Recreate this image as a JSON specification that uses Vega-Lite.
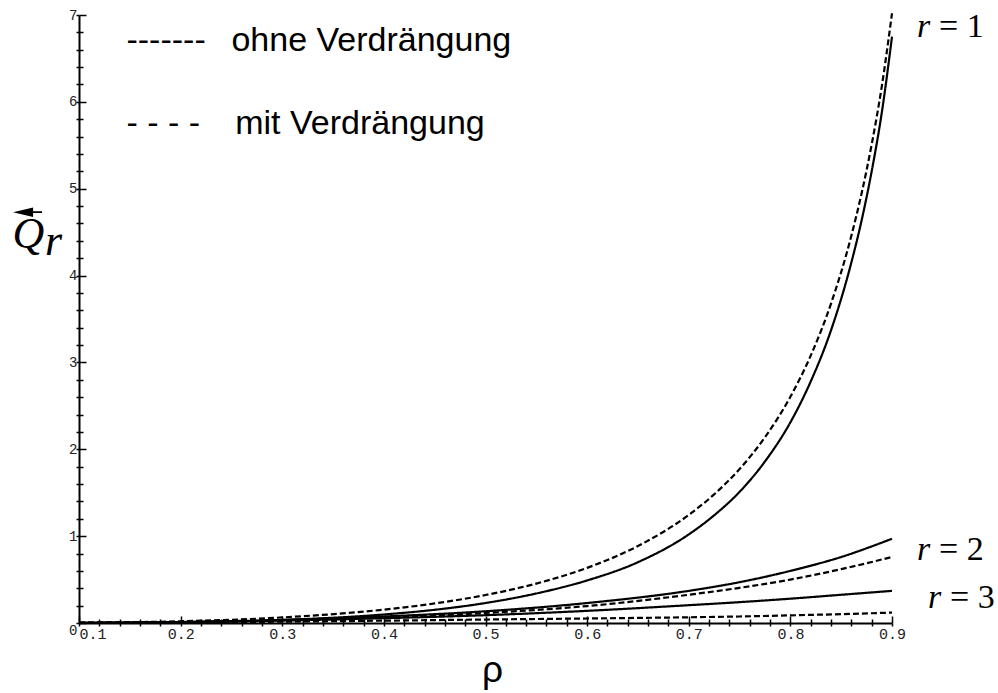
{
  "$schema": "https://vega.github.io/schema/vega-lite/v6.json",
  "width": 813,
  "height": 608,
  "autosize": "none",
  "padding": {"left": 79, "top": 15, "right": 106, "bottom": 70},
  "background": "white",
  "config": {"view": {"stroke": null}},
  "datasets": {
    "curves": [
      {"rho":0.1,"Q":0.001,"r":1,"Typ":"ohne"},{"rho":0.2,"Q":0.009,"r":1,"Typ":"ohne"},{"rho":0.3,"Q":0.035,"r":1,"Typ":"ohne"},{"rho":0.4,"Q":0.098,"r":1,"Typ":"ohne"},{"rho":0.45,"Q":0.152,"r":1,"Typ":"ohne"},{"rho":0.5,"Q":0.23,"r":1,"Typ":"ohne"},{"rho":0.55,"Q":0.34,"r":1,"Typ":"ohne"},{"rho":0.6,"Q":0.49,"r":1,"Typ":"ohne"},{"rho":0.65,"Q":0.70,"r":1,"Typ":"ohne"},{"rho":0.7,"Q":1.02,"r":1,"Typ":"ohne"},{"rho":0.725,"Q":1.24,"r":1,"Typ":"ohne"},{"rho":0.75,"Q":1.51,"r":1,"Typ":"ohne"},{"rho":0.775,"Q":1.86,"r":1,"Typ":"ohne"},{"rho":0.8,"Q":2.31,"r":1,"Typ":"ohne"},{"rho":0.82,"Q":2.78,"r":1,"Typ":"ohne"},{"rho":0.84,"Q":3.37,"r":1,"Typ":"ohne"},{"rho":0.86,"Q":4.15,"r":1,"Typ":"ohne"},{"rho":0.87,"Q":4.63,"r":1,"Typ":"ohne"},{"rho":0.88,"Q":5.2,"r":1,"Typ":"ohne"},{"rho":0.89,"Q":5.88,"r":1,"Typ":"ohne"},{"rho":0.9,"Q":6.75,"r":1,"Typ":"ohne"},
      {"rho":0.1,"Q":0.003,"r":1,"Typ":"mit"},{"rho":0.2,"Q":0.02,"r":1,"Typ":"mit"},{"rho":0.3,"Q":0.064,"r":1,"Typ":"mit"},{"rho":0.4,"Q":0.154,"r":1,"Typ":"mit"},{"rho":0.45,"Q":0.225,"r":1,"Typ":"mit"},{"rho":0.5,"Q":0.322,"r":1,"Typ":"mit"},{"rho":0.55,"Q":0.454,"r":1,"Typ":"mit"},{"rho":0.6,"Q":0.635,"r":1,"Typ":"mit"},{"rho":0.65,"Q":0.886,"r":1,"Typ":"mit"},{"rho":0.7,"Q":1.244,"r":1,"Typ":"mit"},{"rho":0.725,"Q":1.481,"r":1,"Typ":"mit"},{"rho":0.75,"Q":1.773,"r":1,"Typ":"mit"},{"rho":0.775,"Q":2.139,"r":1,"Typ":"mit"},{"rho":0.8,"Q":2.604,"r":1,"Typ":"mit"},{"rho":0.82,"Q":3.078,"r":1,"Typ":"mit"},{"rho":0.84,"Q":3.678,"r":1,"Typ":"mit"},{"rho":0.86,"Q":4.458,"r":1,"Typ":"mit"},{"rho":0.87,"Q":4.942,"r":1,"Typ":"mit"},{"rho":0.88,"Q":5.509,"r":1,"Typ":"mit"},{"rho":0.89,"Q":6.182,"r":1,"Typ":"mit"},{"rho":0.9,"Q":7.02,"r":1,"Typ":"mit"},
      {"rho":0.1,"Q":0.002,"r":2,"Typ":"ohne"},{"rho":0.2,"Q":0.012,"r":2,"Typ":"ohne"},{"rho":0.3,"Q":0.035,"r":2,"Typ":"ohne"},{"rho":0.4,"Q":0.075,"r":2,"Typ":"ohne"},{"rho":0.5,"Q":0.135,"r":2,"Typ":"ohne"},{"rho":0.6,"Q":0.23,"r":2,"Typ":"ohne"},{"rho":0.7,"Q":0.37,"r":2,"Typ":"ohne"},{"rho":0.75,"Q":0.47,"r":2,"Typ":"ohne"},{"rho":0.8,"Q":0.6,"r":2,"Typ":"ohne"},{"rho":0.85,"Q":0.76,"r":2,"Typ":"ohne"},{"rho":0.9,"Q":0.97,"r":2,"Typ":"ohne"},
      {"rho":0.1,"Q":0.002,"r":2,"Typ":"mit"},{"rho":0.2,"Q":0.011,"r":2,"Typ":"mit"},{"rho":0.3,"Q":0.03,"r":2,"Typ":"mit"},{"rho":0.4,"Q":0.065,"r":2,"Typ":"mit"},{"rho":0.5,"Q":0.115,"r":2,"Typ":"mit"},{"rho":0.6,"Q":0.195,"r":2,"Typ":"mit"},{"rho":0.7,"Q":0.325,"r":2,"Typ":"mit"},{"rho":0.75,"Q":0.405,"r":2,"Typ":"mit"},{"rho":0.8,"Q":0.5,"r":2,"Typ":"mit"},{"rho":0.85,"Q":0.62,"r":2,"Typ":"mit"},{"rho":0.9,"Q":0.76,"r":2,"Typ":"mit"},
      {"rho":0.1,"Q":0.002,"r":3,"Typ":"ohne"},{"rho":0.2,"Q":0.01,"r":3,"Typ":"ohne"},{"rho":0.3,"Q":0.028,"r":3,"Typ":"ohne"},{"rho":0.4,"Q":0.055,"r":3,"Typ":"ohne"},{"rho":0.5,"Q":0.09,"r":3,"Typ":"ohne"},{"rho":0.6,"Q":0.14,"r":3,"Typ":"ohne"},{"rho":0.7,"Q":0.205,"r":3,"Typ":"ohne"},{"rho":0.75,"Q":0.24,"r":3,"Typ":"ohne"},{"rho":0.8,"Q":0.28,"r":3,"Typ":"ohne"},{"rho":0.85,"Q":0.325,"r":3,"Typ":"ohne"},{"rho":0.9,"Q":0.37,"r":3,"Typ":"ohne"},
      {"rho":0.1,"Q":0.001,"r":3,"Typ":"mit"},{"rho":0.2,"Q":0.006,"r":3,"Typ":"mit"},{"rho":0.3,"Q":0.015,"r":3,"Typ":"mit"},{"rho":0.4,"Q":0.027,"r":3,"Typ":"mit"},{"rho":0.5,"Q":0.04,"r":3,"Typ":"mit"},{"rho":0.6,"Q":0.052,"r":3,"Typ":"mit"},{"rho":0.7,"Q":0.066,"r":3,"Typ":"mit"},{"rho":0.75,"Q":0.075,"r":3,"Typ":"mit"},{"rho":0.8,"Q":0.088,"r":3,"Typ":"mit"},{"rho":0.85,"Q":0.102,"r":3,"Typ":"mit"},{"rho":0.9,"Q":0.12,"r":3,"Typ":"mit"}
    ]
  },
  "resolve": {"axis": {"x": "independent", "y": "independent"}},
  "layer": [
    {
      "data": {"name": "curves"},
      "mark": {"type": "line", "color": "black", "strokeWidth": 2.2, "interpolate": "monotone"},
      "encoding": {
        "x": {"field": "rho", "type": "quantitative", "scale": {"domain": [0.1, 0.9], "nice": false, "zero": false},
          "axis": {
            "orient": "bottom",
            "values": [0.1,0.12,0.14,0.16,0.18,0.2,0.22,0.24,0.26,0.28,0.3,0.32,0.34,0.36,0.38,0.4,0.42,0.44,0.46,0.48,0.5,0.52,0.54,0.56,0.58,0.6,0.62,0.64,0.66,0.68,0.7,0.72,0.74,0.76,0.78,0.8,0.82,0.84,0.86,0.88,0.9],
            "domainColor": "black", "domainWidth": 2,
            "tickColor": "black", "tickWidth": 1.5,
            "tickSize": {"condition": {"test": "abs(datum.value*10-round(datum.value*10))<0.001", "value": -7}, "value": -4},
            "labelExpr": "abs(datum.value*10-round(datum.value*10))<0.001 ? format(datum.value,'.1f') : ''",
            "labelFont": "Liberation Mono", "labelFontSize": 15, "labelColor": "#222",
            "labelPadding": 10, "labelFlush": false, "labelOverlap": false,
            "labelAlign": {"condition": {"test": "datum.value<0.105", "value": "left"}, "value": "center"},
            "grid": false,
            "title": "ρ", "titleFont": "Liberation Sans", "titleFontSize": 37, "titleFontWeight": "normal", "titleColor": "black",
            "titleX": 413, "titleY": 58, "titleBaseline": "alphabetic"
          }
        },
        "y": {"field": "Q", "type": "quantitative", "scale": {"domain": [0, 7], "nice": false, "zero": false},
          "axis": {
            "orient": "left",
            "values": [0,0.2,0.4,0.6,0.8,1,1.2,1.4,1.6,1.8,2,2.2,2.4,2.6,2.8,3,3.2,3.4,3.6,3.8,4,4.2,4.4,4.6,4.8,5,5.2,5.4,5.6,5.8,6,6.2,6.4,6.6,6.8,7],
            "domainColor": "black", "domainWidth": 2,
            "tickColor": "black", "tickWidth": 1.5,
            "tickSize": {"condition": {"test": "abs(datum.value-round(datum.value))<0.001", "value": -7}, "value": -4},
            "labelExpr": "abs(datum.value-round(datum.value))<0.001 ? format(datum.value,'d') : ''",
            "labelFont": "Liberation Mono", "labelFontSize": 14, "labelColor": "#222",
            "labelPadding": 9, "labelFlush": false, "labelOverlap": false,
            "labelBaseline": {"condition": {"test": "datum.value<0.01", "value": "top"}, "value": "middle"},
            "grid": false,
            "title": "Q", "titleAngle": 0, "titleFont": "Liberation Serif", "titleFontStyle": "italic", "titleFontSize": 44,
            "titleFontWeight": "normal", "titleColor": "black", "titleX": -67, "titleY": 232, "titleAlign": "left", "titleBaseline": "alphabetic"
          }
        },
        "detail": {"field": "r", "type": "nominal"},
        "strokeDash": {"field": "Typ", "type": "nominal", "scale": {"domain": ["ohne", "mit"], "range": [[1, 0], [6, 3]]}, "legend": null}
      }
    },
    {
      "data": {"name": "curves"},
      "mark": {"type": "line", "opacity": 0},
      "encoding": {
        "x": {"field": "rho", "type": "quantitative", "scale": {"domain": [0.1, 0.9], "nice": false, "zero": false},
          "axis": {
            "orient": "bottom",
            "values": [0.1,0.12,0.14,0.16,0.18,0.2,0.22,0.24,0.26,0.28,0.3,0.32,0.34,0.36,0.38,0.4,0.42,0.44,0.46,0.48,0.5,0.52,0.54,0.56,0.58,0.6,0.62,0.64,0.66,0.68,0.7,0.72,0.74,0.76,0.78,0.8,0.82,0.84,0.86,0.88,0.9],
            "domain": false, "labels": false, "grid": false, "title": null,
            "tickColor": "black", "tickWidth": 1.5, "tickSize": 3
          }
        },
        "y": {"field": "Q", "type": "quantitative", "scale": {"domain": [0, 7], "nice": false, "zero": false},
          "axis": {
            "orient": "left",
            "values": [0,0.2,0.4,0.6,0.8,1,1.2,1.4,1.6,1.8,2,2.2,2.4,2.6,2.8,3,3.2,3.4,3.6,3.8,4,4.2,4.4,4.6,4.8,5,5.2,5.4,5.6,5.8,6,6.2,6.4,6.6,6.8,7],
            "domain": false, "labels": false, "grid": false, "title": null,
            "tickColor": "black", "tickWidth": 1.5, "tickSize": 3
          }
        },
        "detail": {"field": "r", "type": "nominal"}
      }
    },
    {
      "data": {"values": [{}]},
      "mark": {"type": "text", "text": "-------\u00a0\u00a0\u2009ohne Verdrängung", "font": "Liberation Sans", "fontSize": 34, "align": "left", "baseline": "alphabetic", "color": "black"},
      "encoding": {
        "x": {"datum": 0.1467, "type": "quantitative", "scale": {"domain": [0.1, 0.9], "nice": false, "zero": false}, "axis": null},
        "y": {"datum": 6.582, "type": "quantitative", "scale": {"domain": [0, 7], "nice": false, "zero": false}, "axis": null}
      }
    },
    {
      "data": {"values": [{}]},
      "mark": {"type": "text", "text": "-\u00a0-\u00a0-\u00a0-\u00a0\u00a0\u00a0\u2009mit Verdrängung", "font": "Liberation Sans", "fontSize": 34, "align": "left", "baseline": "alphabetic", "color": "black"},
      "encoding": {
        "x": {"datum": 0.1467, "type": "quantitative", "scale": {"domain": [0.1, 0.9], "nice": false, "zero": false}, "axis": null},
        "y": {"datum": 5.627, "type": "quantitative", "scale": {"domain": [0, 7], "nice": false, "zero": false}, "axis": null}
      }
    },
    {
      "data": {"values": [{}]},
      "mark": {"type": "text", "text": "r", "font": "Liberation Serif", "fontStyle": "italic", "fontSize": 44, "align": "left", "baseline": "alphabetic", "color": "black"},
      "encoding": {
        "x": {"datum": 0.0665, "type": "quantitative", "scale": {"domain": [0.1, 0.9], "nice": false, "zero": false}, "axis": null},
        "y": {"datum": 4.235, "type": "quantitative", "scale": {"domain": [0, 7], "nice": false, "zero": false}, "axis": null}
      }
    },
    {
      "data": {"values": [{}]},
      "mark": {"type": "point", "shape": "M-1,0L0.7,-0.4L0.7,-0.08L1.46,-0.08L1.46,0.08L0.7,0.08L0.7,0.4Z", "filled": true, "color": "black", "opacity": 1, "size": 557},
      "encoding": {
        "x": {"datum": 0.0467, "type": "quantitative", "scale": {"domain": [0.1, 0.9], "nice": false, "zero": false}, "axis": null},
        "y": {"datum": 4.73, "type": "quantitative", "scale": {"domain": [0, 7], "nice": false, "zero": false}, "axis": null}
      }
    },
    {
      "data": {"values": [{}]},
      "mark": {"type": "text", "text": "r", "font": "Liberation Serif", "fontStyle": "italic", "fontSize": 34, "align": "left", "baseline": "alphabetic", "color": "black"},
      "encoding": {
        "x": {"datum": 0.9246, "type": "quantitative", "scale": {"domain": [0.1, 0.9], "nice": false, "zero": false}, "axis": null},
        "y": {"datum": 6.743, "type": "quantitative", "scale": {"domain": [0, 7], "nice": false, "zero": false}, "axis": null}
      }
    },
    {
      "data": {"values": [{}]},
      "mark": {"type": "text", "text": "= 1", "font": "Liberation Serif", "fontSize": 34, "align": "left", "baseline": "alphabetic", "color": "black", "dx": 22},
      "encoding": {
        "x": {"datum": 0.9246, "type": "quantitative", "scale": {"domain": [0.1, 0.9], "nice": false, "zero": false}, "axis": null},
        "y": {"datum": 6.743, "type": "quantitative", "scale": {"domain": [0, 7], "nice": false, "zero": false}, "axis": null}
      }
    },
    {
      "data": {"values": [{}]},
      "mark": {"type": "text", "text": "r", "font": "Liberation Serif", "fontStyle": "italic", "fontSize": 34, "align": "left", "baseline": "alphabetic", "color": "black"},
      "encoding": {
        "x": {"datum": 0.9246, "type": "quantitative", "scale": {"domain": [0.1, 0.9], "nice": false, "zero": false}, "axis": null},
        "y": {"datum": 0.725, "type": "quantitative", "scale": {"domain": [0, 7], "nice": false, "zero": false}, "axis": null}
      }
    },
    {
      "data": {"values": [{}]},
      "mark": {"type": "text", "text": "= 2", "font": "Liberation Serif", "fontSize": 34, "align": "left", "baseline": "alphabetic", "color": "black", "dx": 22},
      "encoding": {
        "x": {"datum": 0.9246, "type": "quantitative", "scale": {"domain": [0.1, 0.9], "nice": false, "zero": false}, "axis": null},
        "y": {"datum": 0.725, "type": "quantitative", "scale": {"domain": [0, 7], "nice": false, "zero": false}, "axis": null}
      }
    },
    {
      "data": {"values": [{}]},
      "mark": {"type": "text", "text": "r", "font": "Liberation Serif", "fontStyle": "italic", "fontSize": 34, "align": "left", "baseline": "alphabetic", "color": "black"},
      "encoding": {
        "x": {"datum": 0.9354, "type": "quantitative", "scale": {"domain": [0.1, 0.9], "nice": false, "zero": false}, "axis": null},
        "y": {"datum": 0.167, "type": "quantitative", "scale": {"domain": [0, 7], "nice": false, "zero": false}, "axis": null}
      }
    },
    {
      "data": {"values": [{}]},
      "mark": {"type": "text", "text": "= 3", "font": "Liberation Serif", "fontSize": 34, "align": "left", "baseline": "alphabetic", "color": "black", "dx": 22},
      "encoding": {
        "x": {"datum": 0.9354, "type": "quantitative", "scale": {"domain": [0.1, 0.9], "nice": false, "zero": false}, "axis": null},
        "y": {"datum": 0.167, "type": "quantitative", "scale": {"domain": [0, 7], "nice": false, "zero": false}, "axis": null}
      }
    }
  ]
}
